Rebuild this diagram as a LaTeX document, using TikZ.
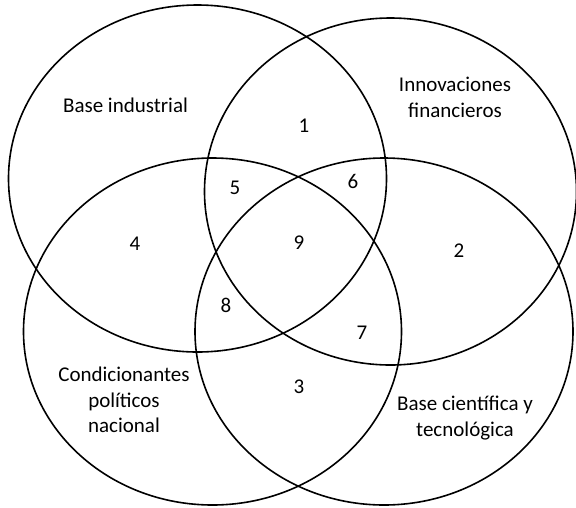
\documentclass[tikz,border=0pt]{standalone}
\usepackage{fontspec}
\setmainfont{Carlito}
\usetikzlibrary{shapes.geometric}
\begin{document}
\begin{tikzpicture}[x=1pt,y=-1pt,
  set/.style={draw=black, line width=1.6pt, ellipse, inner sep=0pt,
    minimum width=378pt, minimum height=347pt},
  lbl/.style={font=\fontsize{21pt}{25.5pt}\selectfont, align=center, inner sep=0pt, text=black},
  num/.style={font=\fontsize{21pt}{25.5pt}\selectfont, inner sep=0pt, text=black}]
\useasboundingbox (0,0) rectangle (576,507);
\node[set] (A) at (197.5,178.5) {};
\node[set, minimum width=372pt] (B) at (390.5,191.5) {};
\node[set] (C) at (212.5,331.5) {};
\node[set] (D) at (384,331.5) {};
\node[lbl] (tA) at (125.5,105) {Base industrial};
\node[lbl] (tB) at (455,97.5) {Innovaciones\\financieros};
\node[lbl] (tC) at (124,400) {Condicionantes\\políticos\\nacional};
\node[lbl] (tD) at (465,418) {Base científica y\\tecnológica};
\node[num] (n1) at (304,126) {1};
\node[num] (n2) at (459,251) {2};
\node[num] (n3) at (299,387) {3};
\node[num] (n4) at (135,244) {4};
\node[num] (n5) at (235,188) {5};
\node[num] (n6) at (353,181) {6};
\node[num] (n7) at (362,333) {7};
\node[num] (n8) at (226,305) {8};
\node[num] (n9) at (299,243) {9};
\end{tikzpicture}
\end{document}
